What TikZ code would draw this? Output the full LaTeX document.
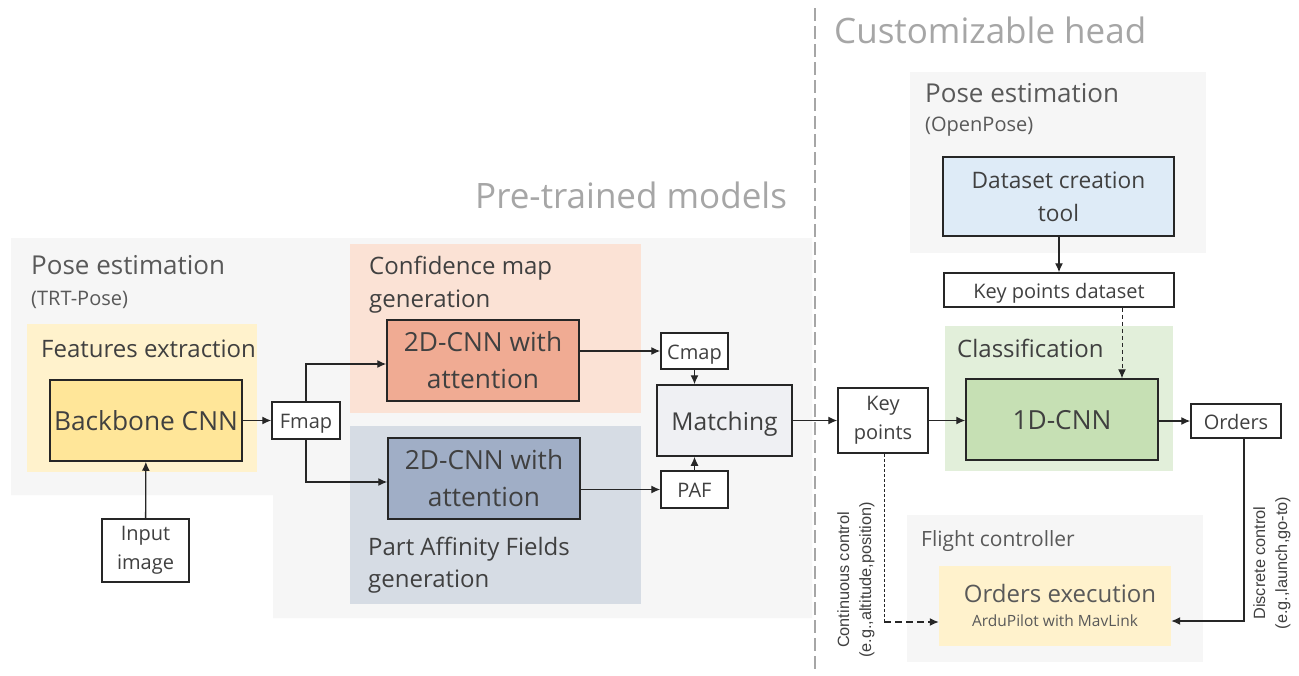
\documentclass[tikz,border=0pt]{standalone}
\usepackage{fontspec}
\setmainfont{Open Sans}
\newfontfamily\arialf{Liberation Sans}
\usetikzlibrary{arrows.meta}
\definecolor{bggray}{HTML}{F6F6F6}
\definecolor{txt}{HTML}{404040}
\definecolor{ttl}{HTML}{A6A6A6}
\definecolor{sub}{HTML}{595959}
\definecolor{featbg}{HTML}{FFF2CC}
\definecolor{featbox}{HTML}{FFE699}
\definecolor{confbg}{HTML}{FBE2D5}
\definecolor{confbox}{HTML}{F0AB93}
\definecolor{pafbg}{HTML}{D6DCE4}
\definecolor{pafbox}{HTML}{A0AEC6}
\definecolor{matchbox}{HTML}{EFF0F3}
\definecolor{clsbg}{HTML}{E2EFDA}
\definecolor{clsbox}{HTML}{C6E0B4}
\definecolor{databox}{HTML}{DEEBF7}
\definecolor{edge}{HTML}{262626}
\tikzset{
  box/.style={draw=edge, line width=1.5pt, align=center, text=txt, inner sep=0pt},
  wbox/.style={box, fill=white, font=\fontsize{20}{29}\selectfont},
  bigbox/.style={box, font=\fontsize{26.3}{37}\selectfont},
  oneline/.style={text height=20pt, text depth=3.5pt},
  bigline/.style={text height=26pt, text depth=7pt},
  lbl/.style={anchor=base west, inner sep=0pt, text=sub},
  conn/.style={draw=edge, line width=1.3pt, -{Latex[length=9pt,width=8pt]}},
}
\begin{document}
\begin{tikzpicture}[x=1pt,y=-1pt]
\fill[white] (0,0) rectangle (1299,675);
\useasboundingbox (0,0) rectangle (1299,675);
% background regions
\fill[bggray] (11,238) -- (812,238) -- (812,618) -- (273,618) -- (273,495) -- (11,495) -- cycle;
\fill[featbg] (27,324) rectangle (257,472);
\fill[confbg] (350,244) rectangle (641,413);
\fill[pafbg] (350,426) rectangle (641,604);
\fill[bggray] (910,72) rectangle (1206,253);
\fill[clsbg] (945,326) rectangle (1173,471);
\fill[bggray] (907,515) rectangle (1203,662);
\fill[featbg] (939,566) rectangle (1171,646);
% divider
\draw[ttl, line width=1.8pt, dash pattern=on 13pt off 5pt] (815,8) -- (815,672);
% titles and labels
\node[lbl, text=ttl, font=\fontsize{35}{40}\selectfont] (tcust) at (834,43) {Customizable head};
\node[lbl, text=ttl, font=\fontsize{35}{40}\selectfont] (tpre) at (475,208) {Pre-trained models};
\node[lbl, font=\fontsize{26}{30}\selectfont] (tpose1) at (31,274) {Pose estimation};
\node[lbl, font=\fontsize{20}{24}\selectfont] (tpose1b) at (31,305) {(TRT-Pose)};
\node[lbl, text=txt, font=\fontsize{24}{28}\selectfont] (tfeat) at (41,357) {Features extraction};
\node[lbl, text=txt, align=left, font=\fontsize{24}{33}\selectfont] (tconf) at (369,307) {Confidence map\\generation};
\node[lbl, text=txt, align=left, font=\fontsize{24}{32}\selectfont] (tpaf) at (368,587) {Part Affinity Fields\\generation};
\node[lbl, font=\fontsize{26}{30}\selectfont] (tpose2) at (925,102) {Pose estimation};
\node[lbl, font=\fontsize{20}{24}\selectfont] (tpose2b) at (925,131) {(OpenPose)};
\node[lbl, text=txt, font=\fontsize{24}{28}\selectfont] (tcls) at (957,357) {Classification};
\node[lbl, font=\fontsize{21}{24}\selectfont] (tfc) at (921,546) {Flight controller};
% boxes
\node[bigbox, bigline, fill=featbox, minimum width=192pt, minimum height=81pt] (bb) at (146,420.5) {Backbone CNN};
\node[wbox, minimum width=87pt, minimum height=63pt] (inp) at (145.5,550.5) {Input\\image};
\node[wbox, oneline, minimum width=68pt, minimum height=37pt] (fmap) at (306,420.5) {Fmap};
\node[bigbox, fill=confbox, minimum width=192pt, minimum height=81pt] (cnn1) at (483,360.5) {2D-CNN with\\attention};
\node[bigbox, fill=pafbox, minimum width=192pt, minimum height=81pt] (cnn2) at (484,478.5) {2D-CNN with\\attention};
\node[wbox, oneline, minimum width=67pt, minimum height=36pt] (cmap) at (694.5,351) {Cmap};
\node[box, fill=matchbox, minimum width=135pt, minimum height=71pt, text height=24.6pt, text depth=5pt, font=\fontsize{24.6}{30}\selectfont] (match) at (724.5,420.5) {Matching};
\node[wbox, oneline, minimum width=67pt, minimum height=37pt] (paf) at (694.5,489.5) {PAF};
\node[wbox, minimum width=90pt, minimum height=65pt] (kp) at (883,420.5) {Key\\points};
\node[bigbox, bigline, fill=clsbox, minimum width=192pt, minimum height=81pt] (cnn1d) at (1062,419.5) {1D-CNN};
\node[wbox, oneline, minimum width=90pt, minimum height=34pt] (ord) at (1236,421) {Orders};
\node[box, fill=databox, minimum width=231pt, minimum height=79pt, font=\fontsize{22.7}{33}\selectfont] (ds) at (1058.5,196.5) {Dataset creation\\tool};
\node[wbox, oneline, minimum width=230pt, minimum height=34pt] (kpd) at (1059,290) {Key points dataset};
\node[inner sep=0pt, minimum width=232pt, minimum height=80pt] (oex) at (1055,606) {};
\node[anchor=base, text=sub, inner sep=0pt, font=\fontsize{24}{28}\selectfont] (oext) at (1060,602) {Orders execution};
\node[anchor=base, text=sub, inner sep=0pt, font=\fontsize{15.5}{18}\selectfont] (oexs) at (1055,626) {ArduPilot with MavLink};
% rotated labels
\node[rotate=90, align=center, inner sep=0pt, text=txt, font=\arialf\fontsize{16.3}{22}\selectfont] (lcont) at (856,580) {Continuous control\\(e.g.,altitude,position)};
\node[rotate=90, align=center, inner sep=0pt, text=txt, font=\arialf\fontsize{16.3}{22}\selectfont] (ldisc) at (1272,563) {Discrete control\\(e.g.,launch,go-to)};
% connectors
\coordinate (kpturn) at (884,622);
\draw[conn] (inp) -- (bb);
\draw[conn] (bb) -- (fmap);
\draw[conn] (fmap.north) |- (cnn1.west |- 0,364);
\draw[conn] (fmap.south) |- (cnn2.west |- 0,482);
\draw[conn] (cnn1.east |- cmap.west) -- (cmap.west);
\draw[conn] (cnn2.east |- paf.west) -- (paf.west);
\draw[conn] (cmap.south) -- (cmap.south |- match.north);
\draw[conn] (paf.north) -- (paf.north |- match.south);
\draw[conn] (match.east |- kp.west) -- (kp.west);
\draw[conn] (kp.east) -- (kp.east -| cnn1d.west);
\draw[conn] (cnn1d.east |- ord.west) -- (ord.west);
\draw[conn] (ds.south -| kpd.north) -- (kpd.north);
\draw[conn, line width=1pt, dash pattern=on 4pt off 3pt] (kpd.south -| 1122,0) -- (cnn1d.north -| 1122,0);
\draw[draw=edge, line width=1pt, dash pattern=on 3pt off 2pt] (kp.south -| kpturn) -- (kpturn);
\draw[conn, dash pattern=on 7pt off 4pt] (kpturn) -- (oex.west |- kpturn);
\draw[conn] (ord.south -| 1244,0) |- (oex.east |- 0,621);
\end{tikzpicture}
\end{document}
